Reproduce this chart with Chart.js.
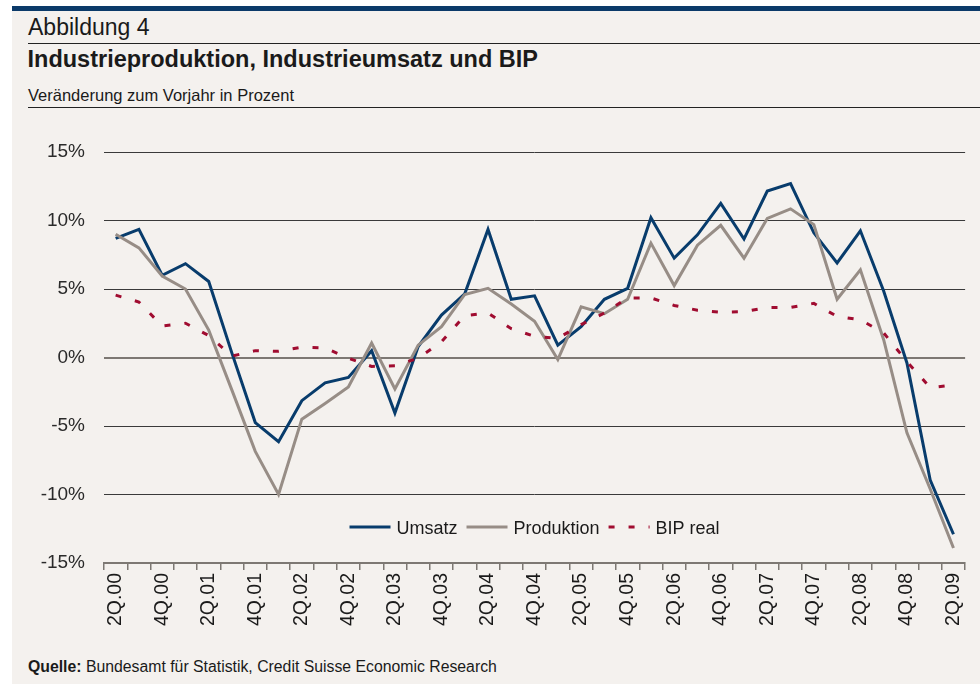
<!DOCTYPE html>
<html>
<head>
<meta charset="utf-8">
<script src="https://cdn.jsdelivr.net/npm/chart.js@4.4.1/dist/chart.umd.min.js"></script>
<style>
  body { margin: 0; width: 980px; height: 684px; background: #fff; overflow: hidden; position: relative;
         font-family: "Liberation Sans", Arial, Helvetica, sans-serif; color: #1a1a1a; }
  #panel { position: absolute; left: 12px; top: 11px; width: 968px; height: 673px; background: #f4f1ee; }
  #bar { position: absolute; left: 12px; top: 6px; width: 968px; height: 5px; background: #0b3a69; }
  .t { position: absolute; white-space: nowrap; line-height: 1; }
  .rule { position: absolute; left: 28px; width: 952px; height: 1px; background: #222; }
  #wrap { position: absolute; left: 0; top: 110px; width: 980px; height: 530px; }
</style>
</head>
<body>
<div id="panel"></div>
<div id="bar"></div>
<div class="t" style="left:28px; top:16.2px; font-size:23px;">Abbildung 4</div>
<div class="rule" style="top:43px;"></div>
<div class="t" style="left:27.5px; top:47.8px; font-size:23.5px; font-weight:bold;">Industrieproduktion, Industrieumsatz und BIP</div>
<div class="t" style="left:28px; top:87px; font-size:16.5px;">Veränderung zum Vorjahr in Prozent</div>
<div class="rule" style="top:107px;"></div>
<div id="wrap"><canvas id="chart" width="980" height="530"></canvas></div>
<div class="t" style="left:28px; top:658.5px; font-size:15.8px;"><b>Quelle:</b> Bundesamt für Statistik, Credit Suisse Economic Research</div>

<script>
// Quartale 2Q.00 bis 2Q.09
const quarters = [
  '2Q.00', '3Q.00', '4Q.00', '1Q.01', '2Q.01', '3Q.01', '4Q.01', '1Q.02', '2Q.02', '3Q.02',
  '4Q.02', '1Q.03', '2Q.03', '3Q.03', '4Q.03', '1Q.04', '2Q.04', '3Q.04', '4Q.04', '1Q.05',
  '2Q.05', '3Q.05', '4Q.05', '1Q.06', '2Q.06', '3Q.06', '4Q.06', '1Q.07', '2Q.07', '3Q.07',
  '4Q.07', '1Q.08', '2Q.08', '3Q.08', '4Q.08', '1Q.09', '2Q.09'
];

const umsatz = [
  8.7, 9.35, 6.0, 6.85, 5.55, 0.3, -4.75, -6.15, -3.15, -1.85,
  -1.45, 0.5, -4.05, 0.8, 3.1, 4.65, 9.35, 4.25, 4.5, 0.9,
  2.25, 4.25, 5.05, 10.2, 7.25, 8.95, 11.25, 8.65, 12.15, 12.7,
  9.1, 6.9, 9.25, 4.85, -0.4, -8.95, -12.9
];

const produktion = [
  9.0, 8.0, 5.95, 5.0, 2.0, -2.4, -6.85, -10.0, -4.5, -3.35,
  -2.15, 1.05, -2.3, 0.9, 2.25, 4.6, 5.05, 3.9, 2.65, -0.15,
  3.7, 3.2, 4.25, 8.35, 5.25, 8.2, 9.65, 7.25, 10.15, 10.85,
  9.7, 4.25, 6.4, 1.3, -5.5, -9.6, -13.9
];

const bipReal = [
  4.55, 4.05, 2.3, 2.5, 1.6, 0.1, 0.5, 0.45, 0.75, 0.7,
  -0.05, -0.65, -0.6, -0.05, 1.15, 3.05, 3.25, 2.1, 1.55, 1.4,
  2.4, 3.25, 4.35, 4.35, 3.8, 3.45, 3.3, 3.35, 3.65, 3.65,
  3.95, 3.0, 2.75, 1.8, -0.3, -2.2, -2.0
];

const yTicks = [-15, -10, -5, 0, 5, 10, 15];

const FONT = '"Liberation Sans", Arial, Helvetica, sans-serif';

// Legende innerhalb der Zeichenfläche, unten mittig
const innerLegend = {
  id: 'innerLegend',
  afterDraw(chart) {
    const { ctx, chartArea } = chart;
    const items = chart.data.datasets;
    const lineLen = 41, gap = 6, space = 9;
    ctx.save();
    ctx.font = '18px ' + FONT;
    let total = 0;
    items.forEach((d, k) => {
      total += lineLen + gap + ctx.measureText(d.label).width + (k < items.length - 1 ? space : 0);
    });
    let x = (chartArea.left + chartArea.right) / 2 - total / 2;
    const y = chartArea.bottom - 36;
    items.forEach(d => {
      ctx.beginPath();
      ctx.strokeStyle = d.borderColor;
      ctx.lineWidth = d.borderWidth;
      ctx.setLineDash(d.borderDash || []);
      ctx.moveTo(x, y);
      ctx.lineTo(x + lineLen, y);
      ctx.stroke();
      ctx.setLineDash([]);
      x += lineLen + gap;
      ctx.fillStyle = '#1a1a1a';
      ctx.textBaseline = 'alphabetic';
      ctx.fillText(d.label, x, y + 6.5);
      x += ctx.measureText(d.label).width + space;
    });
    ctx.restore();
  }
};

const ctx = document.getElementById('chart').getContext('2d');

new Chart(ctx, {
  type: 'line',
  data: {
    labels: quarters,
    datasets: [{
      label: 'Umsatz',
      data: umsatz,
      borderColor: '#083c6c',
      borderWidth: 3,
      order: 3,
    }, {
      label: 'Produktion',
      data: produktion,
      borderColor: '#978d86',
      borderWidth: 3,
      order: 2,
    }, {
      label: 'BIP real',
      data: bipReal,
      borderColor: '#a00c30',
      borderWidth: 3,
      borderDash: [6, 14],
      order: 1,
    }],
  },
  options: {
    responsive: false,
    animation: false,
    layout: { padding: { left: 0, right: 9, top: 42, bottom: 0 } },
    elements: {
      point: { radius: 0 },
      line: { tension: 0, borderCapStyle: 'butt', borderJoinStyle: 'miter' },
    },
    plugins: {
      legend: { display: false },
      tooltip: { enabled: false },
    },
    scales: {
      x: {
        offset: true,
        grid: {
          offset: true,
          drawOnChartArea: false,
          drawTicks: true,
          tickLength: 7,
          color: '#7d7873',
          lineWidth: 1.5,
        },
        border: { display: true, color: '#7d7873', width: 2 },
        ticks: {
          autoSkip: false,
          minRotation: 90,
          maxRotation: 90,
          padding: 3,
          color: '#1a1a1a',
          font: { family: FONT, size: 19.5 },
          callback(value, index) {
            return index % 2 === 0 ? quarters[index] : '';
          },
        },
        afterFit(scale) { scale.height = 77; },
      },
      y: {
        min: -15,
        max: 15,
        afterBuildTicks(scale) {
          scale.ticks = yTicks.map(v => ({ value: v }));
        },
        grid: {
          drawTicks: false,
          color: c => (c.tick.value === 0 || c.tick.value === -15) ? '#7d7873' : '#3a3a3a',
          lineWidth: c => (c.tick.value === 0 || c.tick.value === -15) ? 2 : 1,
        },
        border: { display: false },
        ticks: {
          padding: 19,
          color: '#2a2a2a',
          font: { family: FONT, size: 19 },
          callback: v => v + '%',
        },
        afterFit(scale) { scale.width = 104; },
      },
    },
  },
  plugins: [innerLegend],
});
</script>
</body>
</html>
